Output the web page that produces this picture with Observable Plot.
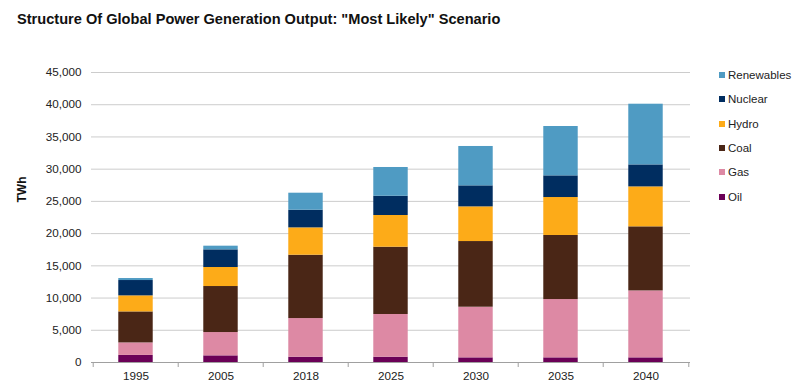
<!DOCTYPE html>
<html><head><meta charset="utf-8">
<script src="https://cdn.jsdelivr.net/npm/d3@7"></script>
<script src="https://cdn.jsdelivr.net/npm/@observablehq/plot@0.6"></script>
<style>
body{margin:0;background:#fff;font-family:"Liberation Sans",Arial,sans-serif;}
#wrap{position:relative;width:807px;height:389px;overflow:hidden;}
#title{padding-left:17px;padding-top:12px;height:28px;line-height:14px;font-size:14.6px;font-weight:bold;color:#111;white-space:nowrap;}
#legend{position:absolute;left:719px;top:0;font-size:11.5px;color:#222;}
.row{position:absolute;left:0;height:14px;display:flex;align-items:center;white-space:nowrap;}
.sw{width:6px;height:6px;margin-right:3px;}
</style></head>
<body>
<div id="wrap">
  <div id="title"></div>
  <div id="chart"></div>
  <div id="legend"></div>
</div>
<script>
const title = 'Structure Of Global Power Generation Output: "Most Likely" Scenario';
const years = ["1995","2005","2018","2025","2030","2035","2040"];
const oil        = [1100, 1030,  820,   820,   720,   720,   720];
const gas        = [1940, 3620, 6000,  6630,  7860,  9050, 10390];
const coal       = [4810, 7140, 9830, 10440, 10190,  9940,  9940];
const hydro      = [2490, 2950, 4240,  4920,  5380,  5890,  6200];
const nuclear    = [2380, 2740, 2740,  2990,  3260,  3360,  3410];
const renewables = [ 310,  570, 2640,  4460,  6110,  7660,  9420];
const seriesNames = ["Oil","Gas","Coal","Hydro","Nuclear","Renewables"];
const seriesColors = ["#6b0057","#dd89a4","#4a2616","#fdab18","#002d60","#4f9bc3"];
const yTicks = [0,5000,10000,15000,20000,25000,30000,35000,40000,45000];
const yLabel = "TWh";

const seriesValues = [oil, gas, coal, hydro, nuclear, renewables];
const data = [];
seriesNames.forEach((s, i) => years.forEach((y, j) => data.push({year: y, source: s, value: seriesValues[i][j]})));

document.getElementById("title").textContent = title;

const W = 807, H = 349, mt = 32, mb = 27, ml = 91, mr = 117;
const step = (W - ml - mr) / years.length;
const inset = (step - 35) / 2;
const plotH = H - mt - mb;

const chart = Plot.plot({
  width: W, height: H,
  marginTop: mt, marginBottom: mb, marginLeft: ml, marginRight: mr,
  style: {fontFamily: '"Liberation Sans", Arial, sans-serif', fontSize: "11.7px", color: "#222", background: "#fff"},
  x: {domain: years, padding: 0, label: null},
  y: {domain: [0, 45000], label: null},
  color: {domain: seriesNames, range: seriesColors},
  marks: [
    Plot.gridY(yTicks, {stroke: "#cccccc", strokeOpacity: 1}),
    Plot.barY(data, Plot.stackY({x: "year", y: "value", fill: "source", order: seriesNames, insetLeft: inset, insetRight: inset})),
    Plot.ruleY([0], {stroke: "#a0a0a0"}),
    Plot.ruleX(years, {x: d => d, dx: -step / 2, insetTop: plotH - 5, dy: 5, stroke: "#a0a0a0"}),
    Plot.ruleX([years[years.length - 1]], {x: d => d, dx: step / 2, insetTop: plotH - 5, dy: 5, stroke: "#a0a0a0"}),
    Plot.axisY(yTicks, {tickSize: 0, tickPadding: 10, tickFormat: d3.format(","), label: null}),
    Plot.axisX({tickSize: 0, tickPadding: 9, label: null}),
    Plot.text([yLabel], {frameAnchor: "left", dx: -69, dy: -15, rotate: -90, fontWeight: "bold", fontSize: 12, fill: "#111"})
  ]
});
document.getElementById("chart").appendChild(chart);

const legendOrder = seriesNames.slice().reverse();
const legendColors = seriesColors.slice().reverse();
const lg = document.getElementById("legend");
legendOrder.forEach((name, i) => {
  const row = document.createElement("div");
  row.className = "row";
  row.style.top = (75 + i * 24.35 - 7) + "px";
  const sw = document.createElement("div");
  sw.className = "sw";
  sw.style.background = legendColors[i];
  const t = document.createElement("span");
  t.textContent = name;
  row.appendChild(sw); row.appendChild(t);
  lg.appendChild(row);
});
</script>
</body></html>
